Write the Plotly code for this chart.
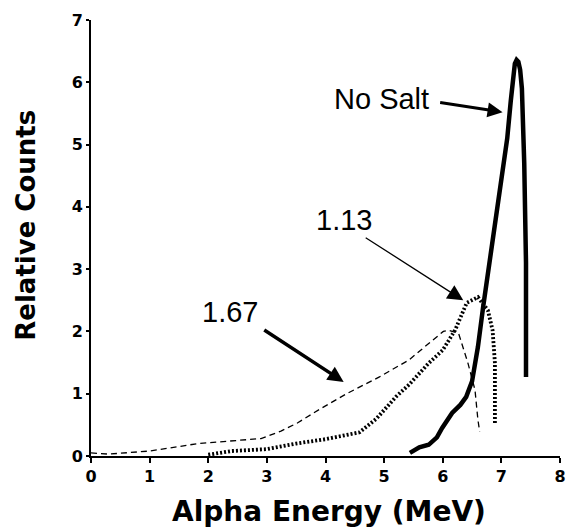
import plotly.graph_objects as go

# ---- data ----
nosalt_x = [5.44, 5.6, 5.76, 5.9, 5.99, 6.16, 6.3, 6.4, 6.5, 6.6, 6.69, 6.8, 6.92, 7.02, 7.1, 7.16, 7.2, 7.23, 7.26, 7.29, 7.32, 7.35, 7.39, 7.42, 7.42]
nosalt_y = [0.05, 0.14, 0.18, 0.3, 0.45, 0.69, 0.82, 0.95, 1.2, 1.75, 2.4, 3.1, 3.85, 4.5, 5.1, 5.7, 6.12, 6.3, 6.36, 6.33, 6.2, 5.9, 4.7, 3.1, 1.27]

s113_x = [2.0, 2.4, 3.0, 3.5, 4.0, 4.58, 4.87, 5.2, 5.43, 5.76, 6.0, 6.21, 6.41, 6.6, 6.77, 6.85, 6.89, 6.89]
s113_y = [0.02, 0.08, 0.11, 0.2, 0.27, 0.38, 0.6, 0.95, 1.15, 1.49, 1.7, 2.02, 2.46, 2.55, 2.34, 2.02, 1.49, 0.53]

s167_x = [0.0, 0.3, 1.0, 1.83, 2.9, 3.24, 3.52, 3.9, 4.36, 4.92, 5.42, 5.76, 6.01, 6.1, 6.27, 6.43, 6.55, 6.6, 6.63]
s167_y = [0.05, 0.03, 0.08, 0.2, 0.28, 0.4, 0.53, 0.75, 1.0, 1.27, 1.54, 1.81, 2.0, 2.02, 1.97, 1.49, 1.06, 0.58, 0.39]

x_ticks = [0, 1, 2, 3, 4, 5, 6, 7, 8]
y_ticks = [0, 1, 2, 3, 4, 5, 6, 7]

labels = ["No Salt", "1.13", "1.67"]

fig = go.Figure()
fig.add_trace(go.Scatter(x=s167_x, y=s167_y, mode="lines",
                         line=dict(color="black", width=1.3, dash="6px,4px"), name="1.67"))
fig.add_trace(go.Scatter(x=s113_x, y=s113_y, mode="lines",
                         line=dict(color="black", width=3.8, dash="2px,2px"), name="1.13"))
fig.add_trace(go.Scatter(x=nosalt_x, y=nosalt_y, mode="lines",
                         line=dict(color="black", width=4.5), name="No Salt"))

tfont = dict(family="Liberation Sans", size=29, color="black")
ann = [
    # label texts
    dict(x=4.95, y=5.73, text=labels[0], showarrow=False, font=tfont),
    dict(x=4.31, y=3.79, text=labels[1], showarrow=False, font=tfont),
    dict(x=2.37, y=2.31, text=labels[2], showarrow=False, font=tfont),
    # arrows
    dict(x=7.02, y=5.52, ax=5.93, ay=5.68, axref="x", ayref="y", text="", showarrow=True,
         arrowhead=2, arrowsize=1.0, arrowwidth=3, arrowcolor="black"),
    dict(x=6.35, y=2.5, ax=4.66, ay=3.52, axref="x", ayref="y", text="", showarrow=True,
         arrowhead=2, arrowsize=2.4, arrowwidth=1.3, arrowcolor="black"),
    dict(x=4.31, y=1.19, ax=2.93, ay=2.04, axref="x", ayref="y", text="", showarrow=True,
         arrowhead=2, arrowsize=0.9, arrowwidth=3.5, arrowcolor="black"),
    # axis titles
    dict(xref="paper", yref="paper", x=0.507, y=-0.128, text="<b>Alpha Energy (MeV)</b>",
         showarrow=False, font=dict(family="DejaVu Sans", size=28, color="black"),
         xanchor="center", yanchor="middle"),
    dict(xref="paper", yref="paper", x=-0.139, y=0.53, text="<b>Relative Counts</b>", textangle=-90,
         showarrow=False, font=dict(family="DejaVu Sans", size=26, color="black"),
         xanchor="center", yanchor="middle"),
]

fig.update_layout(
    width=576, height=530,
    margin=dict(l=91, r=10, t=20, b=74),
    plot_bgcolor="white", paper_bgcolor="white",
    showlegend=False,
    annotations=ann,
)
tickfont = dict(family="DejaVu Sans", size=16, color="black", weight="bold")
fig.update_xaxes(range=[0, 8], tickvals=x_ticks, ticktext=[str(v) for v in x_ticks],
                 showgrid=False, zeroline=False, showline=True, linecolor="black", linewidth=2,
                 ticks="outside", ticklen=5, tickwidth=2, tickcolor="black", tickfont=tickfont)
fig.update_yaxes(range=[0, 7], tickvals=y_ticks, ticktext=[str(v) for v in y_ticks],
                 showgrid=False, zeroline=False, showline=True, linecolor="black", linewidth=2,
                 ticks="outside", ticklen=3, tickwidth=2, tickcolor="black", tickfont=tickfont)

fig.write_html("out.html")
